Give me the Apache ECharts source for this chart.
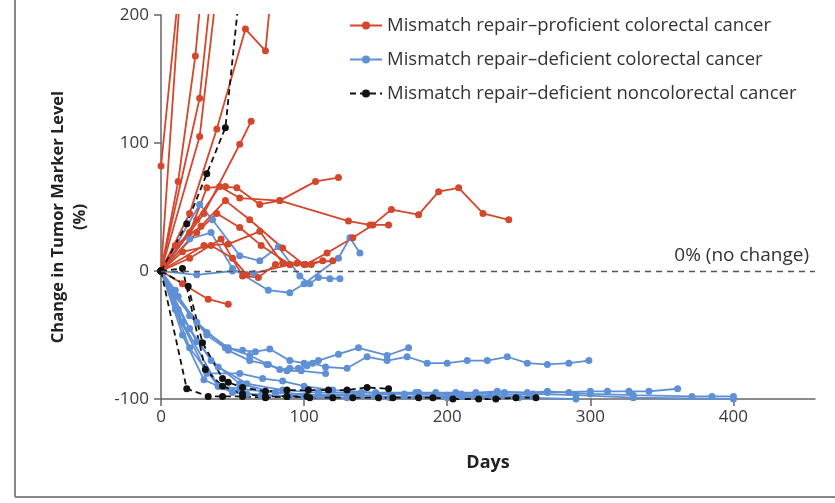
<!DOCTYPE html>
<html><head><meta charset="utf-8">
<script src="https://cdn.jsdelivr.net/npm/echarts@6/dist/echarts.min.js"></script>
<style>html,body{margin:0;padding:0;background:#fff}#c{width:835px;height:503px}</style>
</head><body><div id="c"></div>
<script>
// Categories / legend names
const NAME_P = 'Mismatch repair–proficient colorectal cancer';
const NAME_D = 'Mismatch repair–deficient colorectal cancer';
const NAME_N = 'Mismatch repair–deficient noncolorectal cancer';
const xTicks = [0, 100, 200, 300, 400];
const yTicks = [-100, 0, 100, 200];

// Mismatch repair-proficient colorectal (day, % change)
const p1 = [[0,0],[16,260]];
const p2 = [[0,82],[12,215]];
const p3 = [[0,0],[12,70],[24,168],[30,240]];
const p4 = [[0,0],[27,135],[36,230]];
const p5 = [[0,0],[27,105],[40,230]];
const p6 = [[0,0],[20,45],[39,111],[59,189],[73,172],[78,230]];
const p7 = [[0,0],[30,45],[55,99],[63,117]];
const p8 = [[0,0],[20,30],[32,65],[45,66],[53,65],[69,52],[83,55],[108,70],[124,73]];
const p9 = [[0,0],[25,40],[41,66],[55,57],[83,55],[131,39],[146,36],[159,36]];
const p10 = [[0,0],[30,20],[47,21],[69,31],[85,6],[95,6],[101,5],[116,14],[134,26],[148,36],[161,48],[180,44],[194,62],[208,65],[225,45],[243,40]];
const p11 = [[0,0],[15,-10],[33,-22],[47,-26]];
const p12 = [[0,0],[20,10],[42,25],[57,-4],[68,-5],[80,5]];
const p13 = [[0,0],[25,30],[39,45],[55,34],[70,20],[90,5],[105,5],[113,8]];
const p14 = [[0,0],[10,20],[28,35],[45,55],[62,40],[85,18],[100,5]];
const p15 = [[0,0],[15,15],[35,20],[50,10],[60,-3],[90,5],[120,8]];

// Mismatch repair-deficient colorectal
const d1 = [[0,0],[27,52],[36,40],[55,12],[69,8],[82,19],[97,-4],[104,-10],[110,-5],[118,-6],[125,-6]];
const d2 = [[0,0],[20,25],[35,30],[50,2],[75,-15],[90,-17],[100,-10],[124,10],[132,26],[139,14]];
const d3 = [[0,0],[25,-3],[50,0],[65,-2]];
const d4 = [[0,0],[10,-15],[20,-35],[32,-48],[47,-60],[62,-66],[75,-73],[83,-77],[90,-76],[96,-76],[102,-74],[106,-72],[115,-75],[130,-76],[144,-67],[158,-70],[172,-67],[186,-72],[200,-72],[214,-70],[228,-70],[242,-67],[256,-72],[270,-73],[285,-72],[299,-70]];
const d5 = [[0,0],[12,-20],[25,-40],[45,-60],[57,-62],[66,-63],[76,-61],[90,-70],[100,-72],[110,-70],[124,-65],[138,-60],[158,-66],[173,-60]];
const d6 = [[0,0],[10,-20],[32,-50],[47,-62],[62,-70],[74,-73],[88,-78],[98,-78],[115,-80]];
const d7 = [[0,0],[10,-30],[32,-80],[55,-80],[71,-84],[85,-86],[100,-90],[120,-93],[150,-95],[180,-95],[210,-96],[240,-95],[270,-95],[300,-94],[312,-94],[327,-94],[341,-94],[361,-92]];
const d8 = [[0,0],[15,-40],[40,-90],[55,-92],[80,-95],[110,-97],[150,-97],[178,-95],[192,-95],[206,-95],[220,-95],[235,-94],[256,-95],[270,-94],[285,-95],[300,-96],[330,-97],[371,-98],[385,-98],[400,-98]];
const d9 = [[0,0],[20,-60],[40,-90],[60,-96],[90,-98],[120,-99],[160,-99],[200,-99],[250,-99],[290,-100]];
const d10 = [[0,0],[15,-50],[30,-85],[50,-95],[70,-97],[100,-98],[130,-99],[170,-98],[210,-98],[260,-98]];
const d11 = [[0,0],[20,-45],[35,-70],[55,-88],[80,-95],[110,-97],[140,-96]];
const d12 = [[0,0],[12,-30],[25,-55],[40,-75],[60,-88],[85,-93],[110,-95],[140,-95],[170,-96],[200,-97],[230,-97],[260,-96],[290,-97],[330,-99],[400,-100]];

// Mismatch repair-deficient noncolorectal
const n1 = [[0,0],[18,37],[32,76],[45,112],[56,230]];
const n2 = [[0,0],[18,-92],[33,-98],[43,-98],[57,-98],[73,-99],[88,-98],[104,-99],[120,-99],[134,-99],[152,-99],[162,-99],[180,-99],[190,-99],[204,-100],[222,-100],[234,-100],[248,-99],[262,-99]];
const n3 = [[0,0],[19,-12],[29,-56],[43,-84],[47,-87],[57,-91],[73,-94],[88,-93],[103,-93],[117,-93],[130,-93],[144,-91],[159,-92]];
const n4 = [[0,0],[15,2],[31,-77],[43,-90],[57,-96],[73,-98],[88,-98],[102,-98]];

const RED = '#d4472c', BLUE = '#5f90d6', BLACK = '#111111';
const FONT = 'Open Sans';
const groups = [
  {name: NAME_D, color: BLUE, dash: 'solid', lines: [d1,d2,d3,d4,d5,d6,d7,d8,d9,d10,d11,d12]},
  {name: NAME_P, color: RED, dash: 'solid', lines: [p1,p2,p3,p4,p5,p6,p7,p8,p9,p10,p11,p12,p13,p14,p15]},
  {name: NAME_N, color: BLACK, dash: [6,4], lines: [n1,n2,n3,n4]}
];
const series = [];
groups.forEach(g => g.lines.forEach(l => series.push({
  type: 'line', name: g.name, data: l, symbol: 'circle', symbolSize: 7,
  color: g.color, itemStyle: {color: g.color},
  lineStyle: {color: g.color, width: 1.8, type: g.dash},
  silent: true, animation: false
})));
series.push({
  type: 'line', data: [], silent: true, animation: false,
  markLine: {
    symbol: 'none', silent: true, animation: false,
    lineStyle: {color: '#555', type: [6,5], width: 1.3},
    label: {position: 'insideEndTop', formatter: '0% (no change)', fontSize: 19, color: '#333', fontFamily: FONT, distance: [6, 6]},
    data: [{yAxis: 0}]
  }
});

const chart = echarts.init(document.getElementById('c'));
chart.setOption({
  backgroundColor: '#fff',
  animation: false,
  grid: {left: 161, top: 15, right: 20, bottom: 104, containLabel: false},
  legend: {
    data: [NAME_P, NAME_D, NAME_N], orient: 'vertical', left: 344, top: 11,
    itemWidth: 32, itemHeight: 10, itemGap: 15,
    textStyle: {fontSize: 18.5, color: '#333', fontFamily: FONT}
  },
  xAxis: {
    type: 'value', min: 0, max: 457, interval: 100,
    name: 'Days', nameLocation: 'middle', nameGap: 55,
    nameTextStyle: {fontSize: 18, fontWeight: 'bold', color: '#222', fontFamily: FONT},
    axisLine: {onZero: false, lineStyle: {color: '#666', width: 1.5}},
    axisTick: {length: 7, customValues: xTicks, lineStyle: {color: '#666', width: 1.5}},
    axisLabel: {customValues: xTicks, fontSize: 17, color: '#3a3a3a', margin: 10, fontFamily: FONT},
    splitLine: {show: false}
  },
  yAxis: {
    type: 'value', min: -100, max: 200, interval: 100,
    name: 'Change in Tumor Marker Level\n(%)', nameLocation: 'middle', nameGap: 70, nameRotate: 90,
    nameTextStyle: {fontSize: 16.5, fontWeight: 'bold', color: '#222', fontFamily: FONT, lineHeight: 22, padding: [0, 20, 0, 0]},
    axisLine: {show: true, lineStyle: {color: '#666', width: 1.5}},
    axisTick: {show: true, length: 7, lineStyle: {color: '#666', width: 1.5}},
    axisLabel: {customValues: yTicks, fontSize: 17, color: '#3a3a3a', margin: 12, fontFamily: FONT},
    splitLine: {show: false}
  },
  graphic: [
    {type: 'line', shape: {x1: 15, y1: 0, x2: 15, y2: 497}, style: {stroke: '#888', lineWidth: 2}},
    {type: 'line', shape: {x1: 15, y1: 497, x2: 835, y2: 497}, style: {stroke: '#888', lineWidth: 2}}
  ],
  series: series
});
</script></body></html>
